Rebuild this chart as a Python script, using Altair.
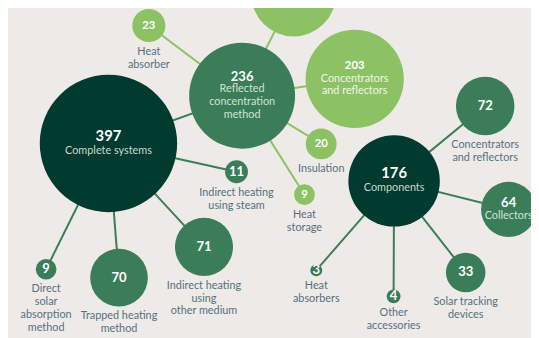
import altair as alt
import numpy as np
import pandas as pd

# ---- data ----
names = [
    "Complete systems", "Components", "Reflected\nconcentration\nmethod", "mechanism",
    "Concentrators\nand reflectors", "Heat\nabsorber", "Insulation", "Heat\nstorage",
    "Indirect heating\nusing steam", "Indirect heating\nusing\nother medium",
    "Trapped heating\nmethod", "Direct\nsolar\nabsorption\nmethod",
    "Concentrators\nand reflectors", "Collectors", "Solar tracking\ndevices",
    "Other\naccessories", "Heat\nabsorbers",
]
values = [397, 176, 236, 150, 203, 23, 20, 9, 11, 71, 70, 9, 72, 64, 33, 4, 3]
node_x = [110, 400, 245.7, 298, 360, 151, 326, 309, 240, 207, 120.7, 46.7, 492.5, 516.3, 472.7, 399.5, 321]
node_y = [143, 181, 94.5, -8.5, 77.5, 23.3, 143.5, 195, 171.7, 248, 279.3, 270.7, 105, 210, 274, 298.3, 271.7]
groups = ["dark", "dark", "mid", "light", "light", "light", "light", "light",
          "mid", "mid", "mid", "mid", "mid", "mid", "mid", "mid", "mid"]
inside = [True, True, True, True, True, False, False, False,
          False, False, False, False, False, True, False, False, False]

edge_source = [0, 0, 0, 0, 0, 2, 2, 2, 2, 2, 1, 1, 1, 1, 1]
edge_target = [2, 8, 9, 10, 11, 5, 3, 4, 6, 7, 12, 13, 14, 15, 16]

# ---- layout helpers ----
K = 3.5                     # radius = K * sqrt(value)
LINE_H = 13
group_domain = ["dark", "mid", "light"]
group_colors = ["#013A2E", "#3A7D58", "#8CC164"]
inner_label_colors = ["#C9D8D0", "#CFE4D2", "#F1F6EA"]

nodes = pd.DataFrame({"name": names, "value": values, "x": node_x, "y": node_y,
                      "group": groups, "inside": inside})
nodes["r"] = K * np.sqrt(nodes["value"])

edges = pd.DataFrame({
    "x": [node_x[s] for s in edge_source],
    "y": [node_y[s] for s in edge_source],
    "x2": [node_x[t] for t in edge_target],
    "y2": [node_y[t] for t in edge_target],
    "group": [groups[t] for t in edge_target],
})

value_rows, in_rows, out_rows = [], [], []
for _, n in nodes.iterrows():
    lines = n["name"].split("\n")
    if n["inside"]:
        gap = 15.5 if n["group"] == "dark" else 12.5
        y_num = n["y"] - (gap + (len(lines) - 1) * LINE_H) / 2
        value_rows.append({"x": n["x"], "y": y_num, "text": str(n["value"]), "vgroup": n["group"]})
        for i, ln in enumerate(lines):
            in_rows.append({"x": n["x"], "y": y_num + gap + i * LINE_H, "text": ln, "tgroup": n["group"]})
    else:
        value_rows.append({"x": n["x"], "y": n["y"], "text": str(n["value"]), "vgroup": n["group"]})
        for i, ln in enumerate(lines):
            out_rows.append({"x": n["x"], "y": n["y"] + n["r"] + 10 + i * LINE_H, "text": ln})

value_df = pd.DataFrame(value_rows)
in_df = pd.DataFrame(in_rows)
out_df = pd.DataFrame(out_rows)

W, H = 531, 330
xs = alt.Scale(domain=[8, 539], nice=False, zero=False)
ys = alt.Scale(domain=[8, 338], nice=False, zero=False, reverse=True)
X = lambda f="x": alt.X(f"{f}:Q", scale=xs, axis=None)
Y = lambda f="y": alt.Y(f"{f}:Q", scale=ys, axis=None)
gcolor = alt.Scale(domain=group_domain, range=group_colors)

rules = alt.Chart(edges).mark_rule(strokeWidth=2).encode(
    x=X(), y=Y(), x2="x2:Q", y2="y2:Q",
    color=alt.Color("group:N", scale=gcolor, legend=None),
)

circles = alt.Chart(nodes).mark_circle(opacity=1).encode(
    x=X(), y=Y(),
    size=alt.Size("value:Q", scale=alt.Scale(domain=[0, 400], range=[0, 4 * K * K * 400]), legend=None),
    color=alt.Color("group:N", scale=gcolor, legend=None),
)

value_text = alt.Chart(value_df).mark_text(
    font="Lato", fontWeight="bold", baseline="middle", align="center", color="#FFFFFF"
).encode(
    x=X(), y=Y(), text="text:N",
    size=alt.Size("vgroup:N", scale=alt.Scale(domain=group_domain, range=[15, 11.5, 11.5]), legend=None),
)

in_text = alt.Chart(in_df).mark_text(
    font="Lato", fontSize=11, baseline="middle", align="center"
).encode(
    x=X(), y=Y(), text="text:N",
    color=alt.Color("tgroup:N", scale=alt.Scale(domain=group_domain, range=inner_label_colors), legend=None),
)

out_text = alt.Chart(out_df).mark_text(
    font="Lato", fontSize=11, baseline="middle", align="center", color="#56707E"
).encode(x=X(), y=Y(), text="text:N")

chart = alt.layer(rules, circles, value_text, in_text, out_text).resolve_scale(
    color="independent", size="independent"
).properties(
    width=W, height=H, background="#EDEAE8", padding=0,
    autosize=alt.AutoSizeParams(type="none"),
).configure_view(stroke=None)

chart.save("out.html", embed_options={"renderer": "svg", "actions": False})
